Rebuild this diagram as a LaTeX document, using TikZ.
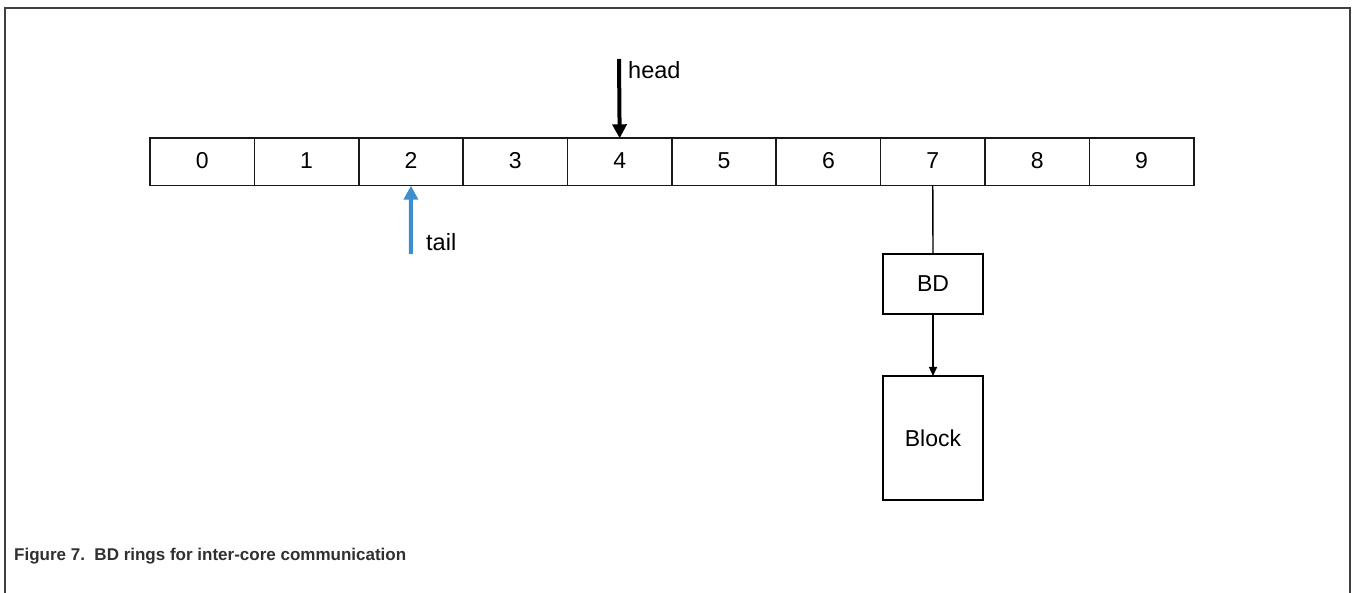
\documentclass[tikz,border=0pt]{standalone}
\usepackage{fontspec}
\setmainfont{Liberation Sans}
\usetikzlibrary{arrows.meta}
\definecolor{framegray}{HTML}{404040}
\definecolor{tailblue}{HTML}{3D8ED0}
\definecolor{captiongray}{HTML}{303030}
\begin{document}
\begin{tikzpicture}[x=1pt,y=-1pt,
  cell/.style={draw=black!90, line width=1.6pt, minimum width=104.37pt, minimum height=47.4pt, inner sep=0pt, outer sep=0pt, text height=16.5pt, text depth=4pt, font=\fontsize{23}{27}\selectfont},
  boxnode/.style={draw=black, line width=2.7pt, minimum width=100pt, inner sep=0pt, outer sep=0pt, font=\fontsize{23}{27}\selectfont},
  lbl/.style={inner sep=0pt, font=\fontsize{23.5}{28}\selectfont},
  thinline/.style={line width=1.4pt, draw=black},
]
\useasboundingbox (0,0) rectangle (1352,593);
% frame
\draw[framegray, line width=2pt] (4.5,593) -- (4.5,8.5) -- (1350.2,8.5) -- (1350.2,593);
% cells
\foreach \i in {0,...,9} {
  \node[cell] (c\i) at ({150+104.37*(\i+0.5)},162) {\i};
}
% head arrow
\coordinate (hs) at (619,59);
\draw[line width=4pt, -{Triangle[width=14pt,length=14pt]}] (hs) -- (c4.north);
\node[lbl, anchor=west] (head) at (628,70) {head};
% tail arrow
\coordinate (ts) at (410.9,254);
\draw[tailblue, line width=4pt, -{Triangle[width=14pt,length=14pt]}] (ts) -- (c2.south);
\node[lbl, anchor=west] (tail) at (426,242) {tail};
% BD and Block
\node[boxnode, minimum height=60pt] (bd) at (933,284) {BD};
\node[boxnode, minimum height=124pt] (blk) at (933,438) {Block};
\draw[thinline] (c7.south) -- (bd.north);
\draw[thinline, -{Triangle[width=8pt,length=9pt]}] (bd.south) -- (blk.north);
% caption
\node[anchor=base west, inner sep=0pt, text=captiongray, font=\fontsize{17}{20}\selectfont\bfseries] (cap) at (14,560) {Figure 7.\ \ BD rings for inter-core communication};
\end{tikzpicture}
\end{document}
